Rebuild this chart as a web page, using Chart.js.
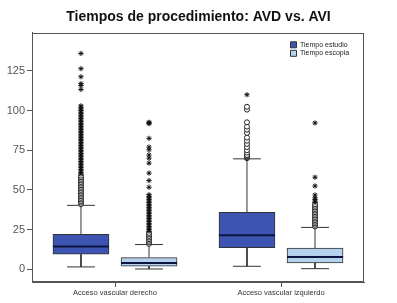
<!DOCTYPE html>
<html>
<head>
<meta charset="utf-8">
<script src="https://cdn.jsdelivr.net/npm/chart.js@4"></script>
<style>
    body { margin: 0; background: #fff; }
</style>
</head>
<body>
<canvas id="boxChart" width="397" height="303"></canvas>
<script>
// =========================================================================
//  1. Data
// =========================================================================
const categories = ['Acceso vascular derecho', 'Acceso vascular izquierdo'];
const seriesNames = ['Tiempo estudio', 'Tiempo escopia'];
const yTicks = [0, 25, 50, 75, 100, 125];

// Tiempo estudio: [derecho, izquierdo]
const estudioLow = [1.5, 1.9];
const estudioQ1 = [9.5, 13.7];
const estudioMedian = [14.4, 21.5];
const estudioQ3 = [22, 35.9];
const estudioHigh = [40.3, 69.6];

// Tiempo escopia: [derecho, izquierdo]
const escopiaLow = [0.2, 0.4];
const escopiaQ1 = [2, 4];
const escopiaMedian = [4, 7.8];
const escopiaQ3 = [7.4, 13.3];
const escopiaHigh = [15.6, 26.4];

// outliers (circles) and extremes (stars), one list per category
const estudioCircles = [
    [41, 42, 43, 44, 45, 46, 47, 48, 49, 50, 51, 52, 53, 54, 55, 56, 57, 58, 59],
    [70, 70.5, 71, 71.5, 72, 73.5, 75, 77, 79, 81, 83, 85.9, 88, 89.9, 92.6, 100.6, 102.4]
];
const estudioStars = [
    [60, 61, 62, 63, 64, 65, 66, 67, 68, 69, 70, 71, 72, 73, 74, 75, 76, 77, 78, 79, 80, 81,
     82, 83, 84, 85, 86, 87, 88, 89, 90, 91, 92, 93, 94, 95, 96, 97, 98, 99, 100, 101, 102, 103,
     113.3, 115.8, 117, 121.3, 126.4, 136],
    [110]
];
const escopiaCircles = [
    [16, 17, 18, 19, 20, 21, 22, 23],
    [27, 28, 29, 30, 31, 32, 33, 34, 35, 36, 37, 38, 39, 40, 41]
];
const escopiaStars = [
    [24, 25, 26, 27, 28, 29, 30, 31, 32, 33, 34, 35, 36, 37, 38, 39, 40, 41, 42, 43, 44, 45, 46, 47,
     51.7, 55.9, 60.6, 66.9, 70, 72, 75.3, 77, 82.5, 91.8, 92.2, 92.6],
    [42, 43, 44, 45, 46.8, 52.5, 58, 92.2]
];

// =========================================================================
//  2. Helpers to turn the lists into chart data
// =========================================================================
const boxOffset = [-0.205, 0.205];   // where each series sits inside a category
const boxHalf = 0.169;               // half box width, x units
const capHalf = 0.084;               // half whisker cap width

function boxBars(q1, q3, s) {
    return categories.map((c, i) => ({ x: i + boxOffset[s], y: [q1[i], q3[i]] }));
}

function whiskerLines(low, q1, q3, high, s) {
    const pts = [];
    categories.forEach((c, i) => {
        const x = i + boxOffset[s];
        pts.push({ x: x, y: q3[i] }, { x: x, y: high[i] }, { x: x, y: null });
        pts.push({ x: x - capHalf, y: high[i] }, { x: x + capHalf, y: high[i] }, { x: x, y: null });
        pts.push({ x: x, y: q1[i] }, { x: x, y: low[i] }, { x: x, y: null });
        pts.push({ x: x - capHalf, y: low[i] }, { x: x + capHalf, y: low[i] }, { x: x, y: null });
    });
    return pts;
}

function medianLines(med, s) {
    const pts = [];
    categories.forEach((c, i) => {
        const x = i + boxOffset[s];
        pts.push({ x: x - boxHalf, y: med[i] }, { x: x + boxHalf, y: med[i] }, { x: x, y: null });
    });
    return pts;
}

function outlierPoints(lists, s) {
    const pts = [];
    lists.forEach((vals, i) => vals.forEach(v => pts.push({ x: i + boxOffset[s], y: v })));
    return pts;
}

// =========================================================================
//  3. Plugins: frame round the plot, category tick marks, legend in the corner
// =========================================================================
const framePlugin = {
    id: 'frame',
    beforeDatasetsDraw(chart) {
        const a = chart.chartArea;
        const ctx = chart.ctx;
        ctx.save();
        ctx.strokeStyle = '#555';
        ctx.lineWidth = 1;
        ctx.strokeRect(Math.round(a.left) + 0.5, Math.round(a.top) + 0.5,
            Math.round(a.right - a.left) - 1, Math.round(a.bottom - a.top) - 1);
        // short tick marks under each category
        const xs = chart.scales.x;
        ctx.beginPath();
        categories.forEach((c, i) => {
            const px = Math.round(xs.getPixelForValue(i)) + 0.5;
            ctx.moveTo(px, a.bottom);
            ctx.lineTo(px, a.bottom + 5);
        });
        ctx.stroke();
        ctx.restore();
    }
};

const legendPlace = {
    id: 'legendPlace',
    afterLayout(chart) {
        const lg = chart.legend;
        if (!lg) return;
        const w = lg.width;
        lg.left = chart.chartArea.right - 75;
        lg.right = lg.left + w;
        lg.top = chart.chartArea.top + 7;
        lg.bottom = lg.top + lg.height;
    }
};

Chart.defaults.font.family = "'Liberation Sans', Arial, sans-serif";
Chart.defaults.color = '#333';

// =========================================================================
//  4. Chart
// =========================================================================
const darkFill = 'rgb(62, 84, 178)';
const lightFill = 'rgb(180, 210, 238)';
const boxEdge = '#333';

new Chart(document.getElementById('boxChart'), {
    type: 'bar',
    data: {
        datasets: [
            { label: seriesNames[0], data: boxBars(estudioQ1, estudioQ3, 0), backgroundColor: darkFill,
              borderColor: boxEdge, borderWidth: 1, borderSkipped: false, barThickness: 56, grouped: false, order: 3 },
            { label: seriesNames[1], data: boxBars(escopiaQ1, escopiaQ3, 1), backgroundColor: lightFill,
              borderColor: boxEdge, borderWidth: 1, borderSkipped: false, barThickness: 56, grouped: false, order: 3 },
            { type: 'line', label: 'whiskers', data: whiskerLines(estudioLow, estudioQ1, estudioQ3, estudioHigh, 0)
                .concat(whiskerLines(escopiaLow, escopiaQ1, escopiaQ3, escopiaHigh, 1)),
              borderColor: '#333', borderWidth: 1, pointRadius: 0, spanGaps: false, order: 2 },
            { type: 'line', label: 'median', data: medianLines(estudioMedian, 0).concat(medianLines(escopiaMedian, 1)),
              borderColor: '#0c1440', borderWidth: 2, pointRadius: 0, spanGaps: false, order: 1 },
            { type: 'scatter', label: 'outliers', data: outlierPoints(estudioCircles, 0).concat(outlierPoints(escopiaCircles, 1)),
              pointStyle: 'circle', pointRadius: 2.5, borderColor: '#222', borderWidth: 1,
              backgroundColor: '#fff', order: 1 },
            { type: 'scatter', label: 'extremes', data: outlierPoints(estudioStars, 0).concat(outlierPoints(escopiaStars, 1)),
              pointStyle: 'star', pointRadius: 2.6, borderColor: '#111', borderWidth: 1, order: 0 }
        ]
    },
    options: {
        responsive: false,
        animation: false,
        layout: { padding: 0 },
        plugins: {
            title: {
                display: true,
                text: 'Tiempos de procedimiento: AVD vs. AVI',
                color: '#111',
                font: { size: 14, weight: 'bold', lineHeight: 1.2 },
                padding: { top: 9, bottom: 7 }
            },
            legend: {
                position: 'chartArea',
                align: 'start',
                labels: {
                    filter: item => item.datasetIndex < 2,
                    boxWidth: 6,
                    boxHeight: 6,
                    padding: 1.5,
                    color: '#222',
                    font: { size: 7 }
                }
            },
            tooltip: { enabled: false }
        },
        scales: {
            x: {
                type: 'linear',
                min: -0.5,
                max: 1.5,
                offset: false,
                afterBuildTicks: s => { s.ticks = categories.map((c, i) => ({ value: i })); },
                afterFit: s => { s.height = 21; },
                ticks: {
                    callback: (v) => categories[v],
                    font: { size: 7.5 },
                    color: '#333',
                    padding: -2,
                    maxRotation: 0,
                    autoSkip: false
                },
                grid: { display: false },
                border: { display: true, color: '#555' }
            },
            y: {
                min: -8,
                max: 149,
                afterBuildTicks: s => { s.ticks = yTicks.map(v => ({ value: v })); },
                afterFit: s => { s.width = 32; },
                ticks: { font: { size: 11 }, color: '#555', padding: 2 },
                grid: { drawOnChartArea: false, drawTicks: true, tickLength: 5, color: '#555' },
                border: { display: true, color: '#555' }
            },
            yRight: {
                position: 'right',
                display: true,
                afterFit: s => { s.width = 33; },
                ticks: { display: false },
                grid: { display: false },
                border: { display: false }
            }
        }
    },
    plugins: [framePlugin, legendPlace]
});
</script>
</body>
</html>
